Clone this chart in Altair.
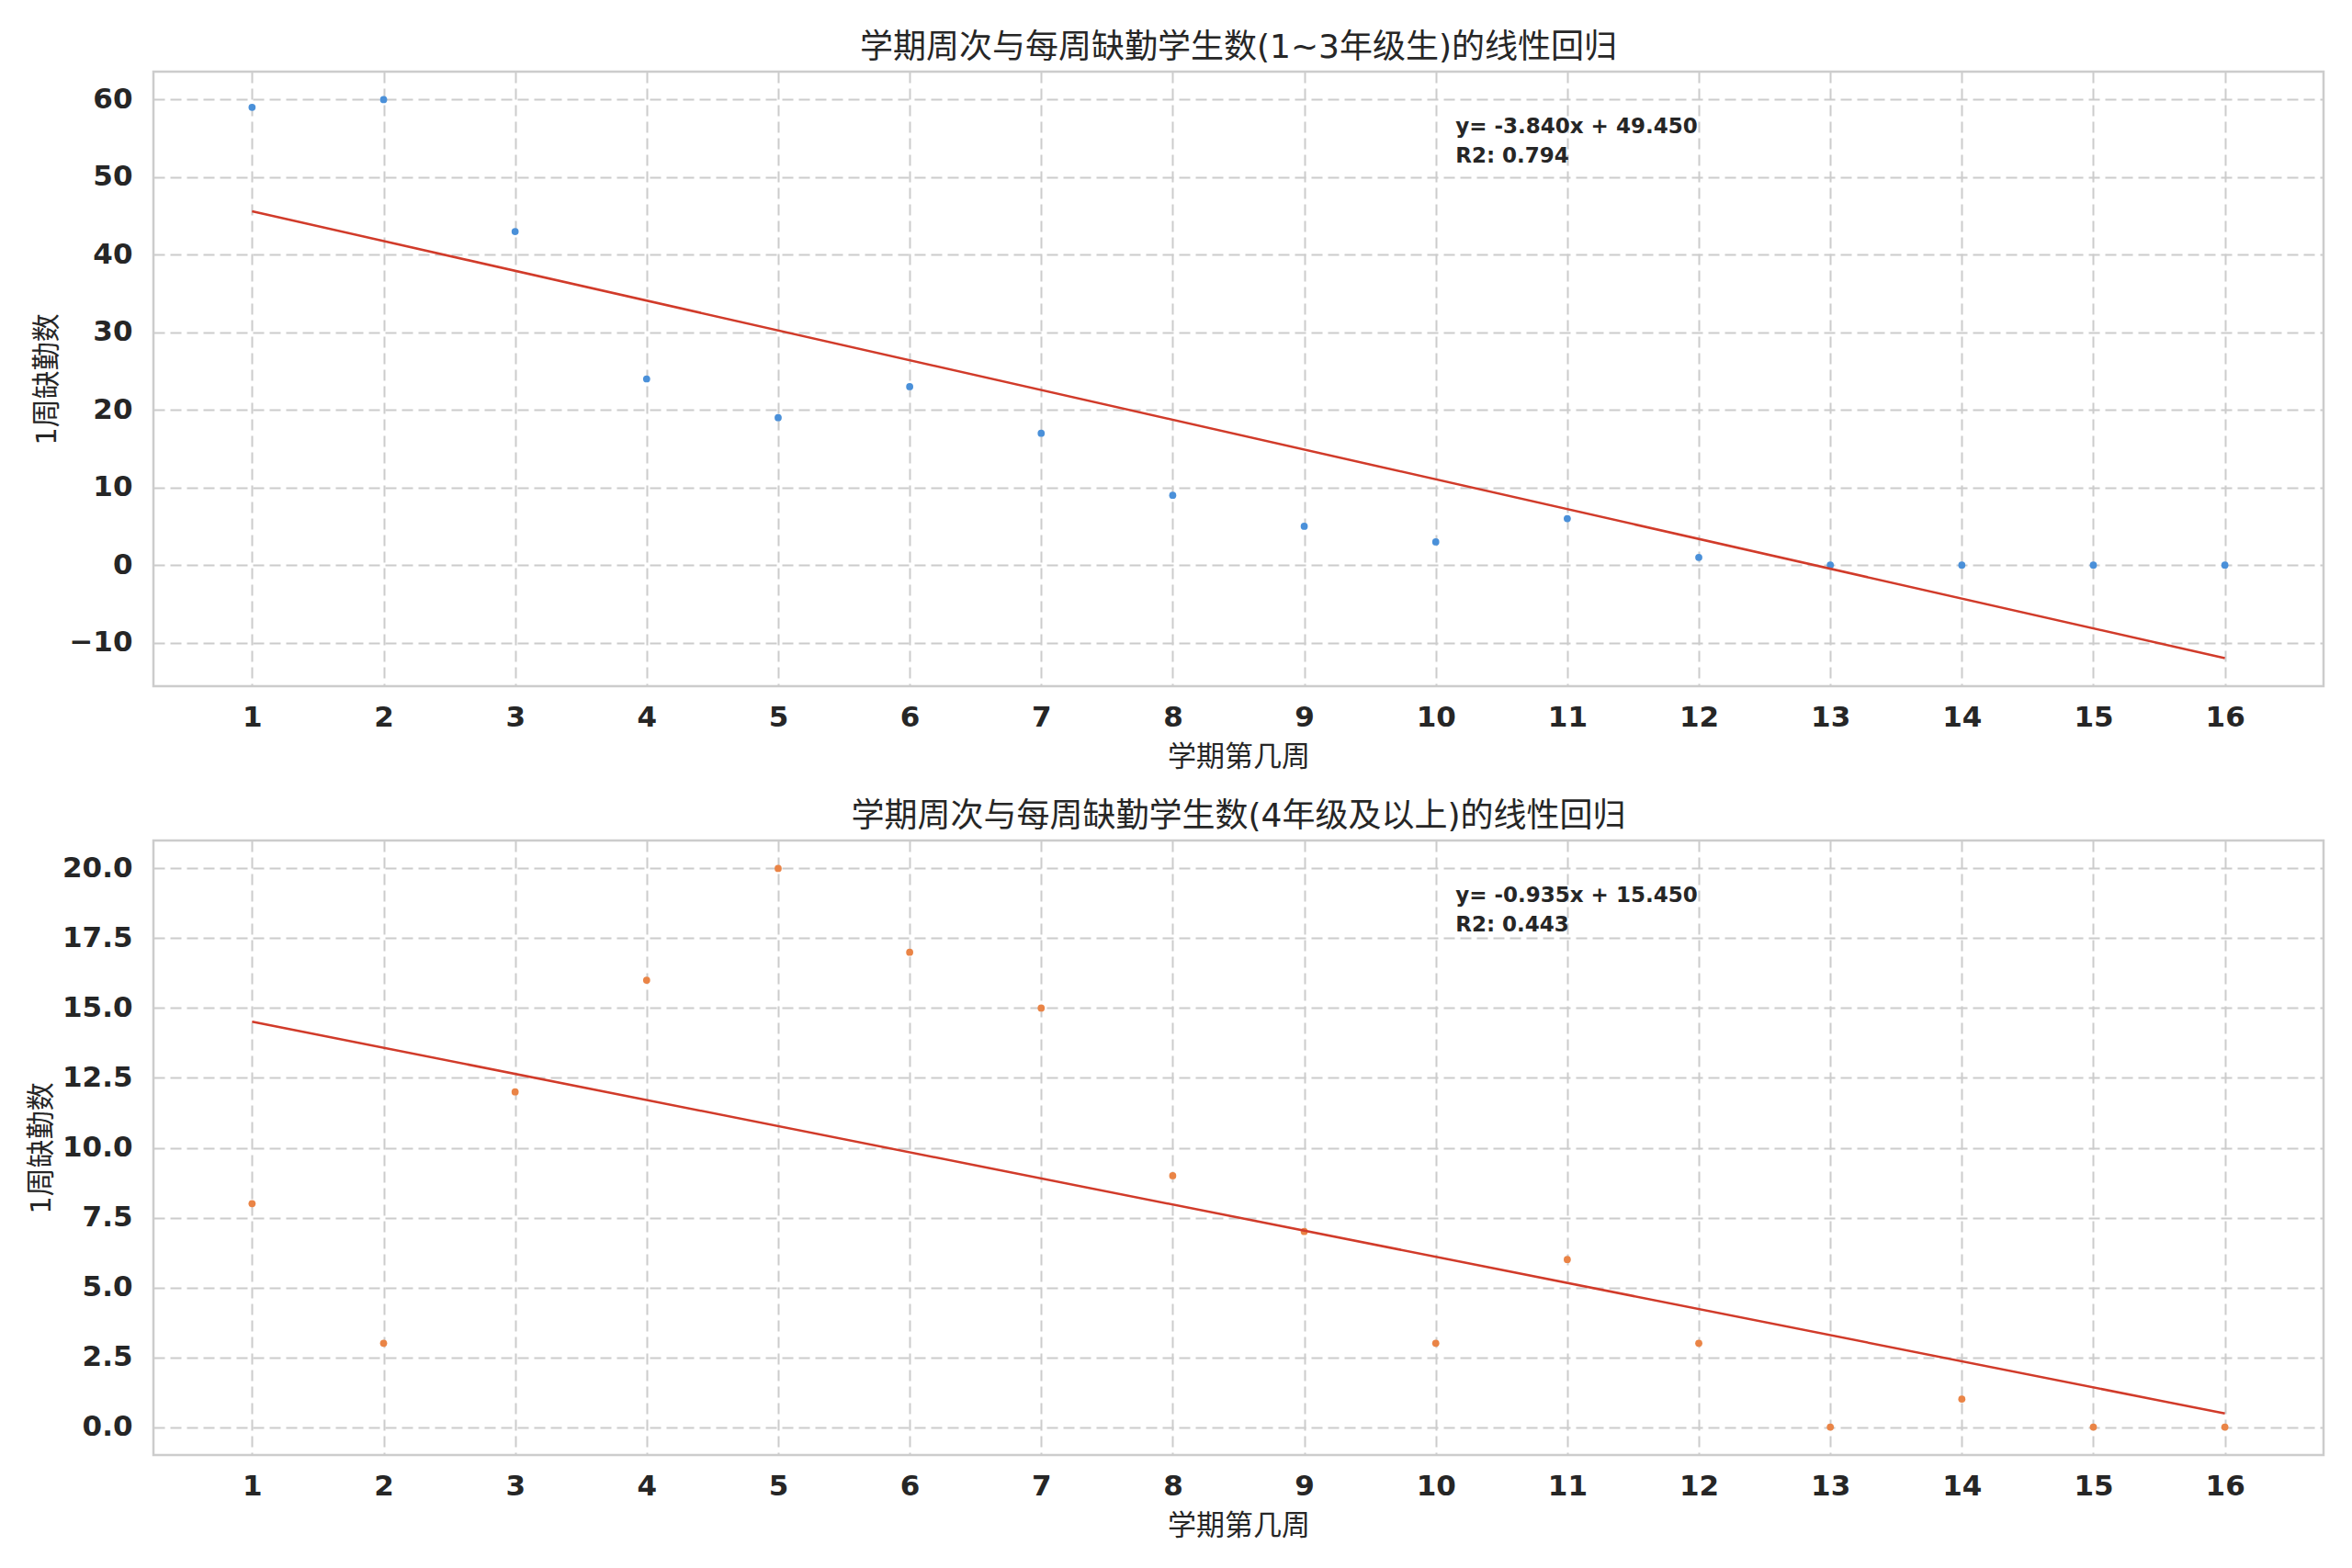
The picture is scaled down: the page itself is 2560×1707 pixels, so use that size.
import altair as alt
import pandas as pd
import numpy as np

# ---- data ----
weeks = list(range(1, 17))
counts_low = [59, 60, 43, 24, 19, 23, 17, 9, 5, 3, 6, 1, 0, 0, 0, 0]      # 1~3年级
counts_high = [8, 3, 12, 16, 20, 17, 15, 9, 7, 3, 6, 3, 0, 1, 0, 0]       # 4年级及以上
y_ticks_top = [-10, 0, 10, 20, 30, 40, 50, 60]
y_ticks_bottom = [0, 2.5, 5, 7.5, 10, 12.5, 15, 17.5, 20]
titles = [
    "学期周次与每周缺勤学生数(1~3年级生)的线性回归",
    "学期周次与每周缺勤学生数(4年级及以上)的线性回归",
]
x_label = "学期第几周"
y_label = "1周缺勤数"

FONT = "DejaVu Sans, Noto Sans CJK SC, sans-serif"
TXT = "#262626"
GRID = "#cccccc"
RED = "#D13B2A"
W, H = 2362, 669
X_DOM = [0.25, 16.75]


def panel(values, color, title, y_dom, y_ticks, y_fmt, extent):
    df = pd.DataFrame({"x": weeks, "y": values})
    xa = np.array(weeks, dtype=float)
    ya = np.array(values, dtype=float)
    slope, intercept = np.polyfit(xa, ya, 1)
    pred = slope * xa + intercept
    r2 = 1 - ((ya - pred) ** 2).sum() / ((ya - ya.mean()) ** 2).sum()
    label = f"y= {slope:.3f}x + {intercept:.3f}\nR2: {r2:.3f}"

    xs = alt.Scale(domain=X_DOM, nice=False, zero=False)
    ys = alt.Scale(domain=y_dom, nice=False, zero=False)
    x_axis = alt.Axis(
        values=weeks, format="d", title=x_label, grid=True,
        gridColor=GRID, gridDash=[12, 6], gridWidth=2,
        ticks=False, tickSize=0, domain=False,
        labelFont=FONT, labelFontSize=31, labelFontWeight="bold", labelColor=TXT,
        labelPadding=19, labelFlush=False,
        titleFont=FONT, titleFontSize=31, titleFontWeight="normal", titleColor=TXT,
        titlePadding=13,
    )
    y_axis = alt.Axis(
        values=y_ticks, format=y_fmt, title=y_label, grid=True,
        gridColor=GRID, gridDash=[12, 6], gridWidth=2,
        ticks=False, tickSize=0, domain=False,
        labelFont=FONT, labelFontSize=31, labelFontWeight="bold", labelColor=TXT,
        labelPadding=23, labelFlush=False,
        titleFont=FONT, titleFontSize=31, titleFontWeight="normal", titleColor=TXT,
        titlePadding=10, minExtent=extent, maxExtent=extent,
    )
    base = alt.Chart(df)
    pts = base.mark_circle(size=60, color=color, opacity=1).encode(
        x=alt.X("x:Q", scale=xs, axis=x_axis),
        y=alt.Y("y:Q", scale=ys, axis=y_axis),
    )
    reg = base.transform_regression("x", "y", extent=[1, 16]).mark_line(
        color=RED, strokeWidth=2.5
    ).encode(x=alt.X("x:Q", scale=xs), y=alt.Y("y:Q", scale=ys))

    ann_df = pd.DataFrame({
        "x": [X_DOM[0] + 0.6 * (X_DOM[1] - X_DOM[0])],
        "y": [y_dom[1] - 0.1 * (y_dom[1] - y_dom[0])],
        "t": [label],
    })
    ann = alt.Chart(ann_df).mark_text(
        align="left", baseline="alphabetic", lineBreak="\n", lineHeight=32,
        font=FONT, fontSize=23, fontWeight="bold", color=TXT,
    ).encode(x=alt.X("x:Q", scale=xs), y=alt.Y("y:Q", scale=ys), text="t:N")

    return alt.layer(pts, reg, ann).properties(
        width=W, height=H,
        title=alt.TitleParams(title, font=FONT, fontSize=36, fontWeight="normal",
                              color=TXT, offset=7, anchor="middle"),
    )


top = panel(counts_low, "#4A90D9", titles[0], [-15.6, 63.6], y_ticks_top, "d", 90)
bottom = panel(counts_high, "#EA8446", titles[1], [-1.0, 21.0], y_ticks_bottom, ".1f", 96)

chart = alt.vconcat(top, bottom, spacing=28).properties(
    padding={"left": 19, "top": 24, "right": 5, "bottom": 5},
    background="white",
).configure_view(stroke=GRID, strokeWidth=2.5)

chart.save("out.html", embed_options={"renderer": "svg", "actions": False})
